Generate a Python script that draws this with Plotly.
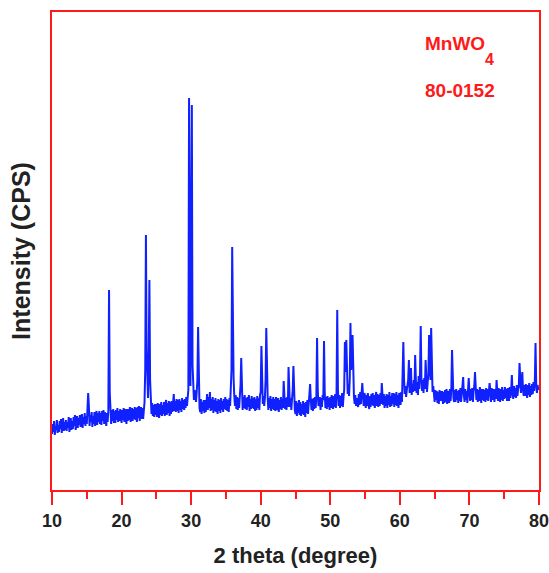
"""
XRD pattern of MnWO4 (JCPDS 80-0152) drawn with plotly
"""

import plotly.graph_objects as go

## data: intensity, one row per degree (N.0 ... N.9)
TWO_THETA_START = 10.0
TWO_THETA_STEP = 0.1

intensity = [
    56, 66, 58, 69, 55, 64, 60, 70, 57, 65,        # 10
    58, 69, 61, 71, 57, 66, 72, 59, 68, 60,        # 11
    70, 59, 68, 62, 73, 58, 66, 72, 60, 69,        # 12
    61, 73, 64, 75, 60, 70, 74, 62, 72, 65,        # 13
    75, 63, 71, 76, 62, 73, 66, 77, 64, 74,        # 14
    66, 80, 97, 84, 64, 75, 68, 78, 63, 74,        # 15
    66, 78, 64, 75, 79, 65, 77, 68, 79, 66,        # 16
    77, 65, 79, 69, 80, 66, 78, 71, 64, 77,        # 17
    68, 80, 200, 98, 77, 66, 80, 69, 81, 67,       # 18
    79, 67, 80, 70, 82, 68, 79, 69, 81, 72,        # 19
    67, 80, 70, 82, 68, 81, 72, 66, 81, 69,        # 20
    81, 70, 83, 68, 79, 82, 69, 81, 71, 83,        # 21
    70, 82, 68, 83, 72, 84, 69, 80, 83, 71,        # 22
    82, 71, 85, 88, 120, 255, 140, 98, 92, 130,    # 23
    210, 110, 86, 76, 87, 74, 85, 73, 86, 75,      # 24
    86, 73, 87, 76, 72, 86, 75, 88, 74, 85,        # 25
    76, 88, 74, 86, 90, 75, 87, 77, 89, 74,        # 26
    88, 76, 89, 78, 88, 96, 79, 89, 78, 91,        # 27
    79, 90, 77, 91, 80, 89, 78, 92, 81, 90,        # 28
    80, 91, 82, 93, 84, 94, 100, 392, 140, 104,    # 29
    240, 385, 125, 96, 90, 100, 92, 88, 98, 110,   # 30
    163, 98, 82, 78, 91, 76, 88, 79, 90, 77,       # 31
    90, 78, 91, 96, 80, 93, 82, 98, 79, 91,        # 32
    80, 93, 77, 90, 79, 92, 78, 89, 76, 91,        # 33
    79, 90, 77, 92, 80, 89, 78, 91, 81, 93,        # 34
    80, 91, 79, 90, 78, 92, 84, 96, 120, 243,      # 35
    125, 112, 94, 84, 95, 81, 93, 80, 92, 82,      # 36
    94, 105, 132, 94, 80, 93, 82, 95, 81, 92,      # 37
    80, 93, 83, 95, 79, 91, 81, 94, 82, 92,        # 38
    81, 93, 79, 91, 80, 94, 82, 92, 80, 95,        # 39
    98, 144, 98, 86, 94, 84, 92, 110, 162, 100,    # 40
    92, 80, 92, 82, 94, 79, 91, 81, 93, 80,        # 41
    91, 79, 93, 82, 80, 92, 78, 90, 81, 93,        # 42
    80, 91, 82, 109, 94, 81, 92, 80, 93, 83,       # 43
    123, 96, 83, 92, 80, 91, 100, 124, 95, 80,     # 44
    76, 89, 74, 87, 77, 90, 75, 88, 74, 86,        # 45
    76, 89, 75, 87, 73, 88, 77, 90, 76, 87,        # 46
    92, 106, 90, 80, 91, 79, 92, 81, 93, 82,       # 47
    94, 152, 100, 84, 89, 93, 80, 92, 83, 95,      # 48
    90, 149, 98, 82, 93, 81, 94, 83, 92, 80,       # 49
    93, 82, 95, 84, 81, 94, 83, 96, 82, 97,        # 50
    180, 100, 84, 95, 82, 94, 84, 97, 83, 93,      # 51
    100, 148, 118, 150, 112, 96, 106, 94, 112, 167,  # 52
    120, 130, 155, 110, 93, 86, 95, 84, 92, 87,    # 53
    83, 96, 85, 98, 86, 97, 107, 95, 84, 97,       # 54
    94, 82, 95, 84, 97, 85, 81, 94, 83, 96,        # 55
    85, 97, 84, 95, 82, 94, 98, 84, 96, 83,        # 56
    95, 84, 97, 86, 107, 96, 85, 96, 82, 94,       # 57
    84, 96, 82, 95, 85, 98, 83, 94, 84, 97,        # 58
    86, 97, 83, 96, 85, 98, 84, 95, 82, 97,        # 59
    95, 85, 98, 88, 110, 148, 112, 96, 104, 93,    # 60
    100, 106, 110, 130, 97, 108, 122, 95, 106, 98,   # 61
    110, 99, 135, 110, 97, 108, 95, 114, 101, 118,   # 62
    164, 112, 99, 110, 97, 112, 101, 130, 104, 98,   # 63
    108, 115, 155, 120, 110, 162, 118, 98, 104, 93,  # 64
    88, 100, 90, 99, 87, 98, 86, 100, 89, 99,      # 65
    89, 99, 86, 98, 87, 100, 88, 101, 86, 97,      # 66
    99, 87, 101, 89, 102, 140, 104, 92, 88, 100,   # 67
    88, 101, 90, 99, 87, 100, 89, 102, 88, 99,     # 68
    101, 113, 95, 88, 101, 90, 99, 87, 100, 112,   # 69
    98, 89, 101, 90, 102, 88, 99, 104, 118, 100,   # 70
    90, 101, 88, 100, 89, 103, 91, 87, 101, 90,    # 71
    101, 89, 100, 88, 102, 90, 101, 89, 99, 107,   # 72
    100, 88, 102, 90, 101, 92, 88, 101, 91, 110,   # 73
    99, 89, 102, 91, 88, 101, 90, 103, 89, 100,    # 74
    91, 103, 92, 101, 89, 102, 93, 89, 103, 92,    # 75
    100, 115, 97, 91, 104, 93, 102, 92, 105, 94,   # 76
    101, 104, 127, 106, 97, 106, 118, 100, 94, 105,  # 77
    94, 106, 96, 92, 105, 95, 107, 93, 104, 95,    # 78
    106, 96, 108, 99, 108, 147, 106, 97, 105, 100,   # 79
]

x_ticks = [10, 20, 30, 40, 50, 60, 70, 80]
phase_name = 'MnWO'
phase_sub = '4'
card_no = '80-0152'

RED = '#ff1a1a'
FONT = 'Liberation Sans, Arial, sans-serif'

fig = go.Figure(go.Scatter(x0=TWO_THETA_START, dx=TWO_THETA_STEP, y=intensity,
                           mode='lines', line=dict(color='#1020ff', width=2),
                           showlegend=False))

fig.update_layout(width=549, height=573, margin=dict(l=52, r=10, t=12, b=83),
                  plot_bgcolor='white', paper_bgcolor='white',
                  font=dict(family=FONT, color='#222222'))

fig.update_xaxes(range=[10, 80], tickvals=x_ticks, ticks='outside', ticklen=13,
                 tickwidth=2, tickcolor=RED, showline=True, linecolor=RED,
                 linewidth=2, mirror=True, showgrid=False, zeroline=False, automargin=False,
                 ticklabeloverflow='allow',
                 tickfont=dict(size=18, family=FONT, color='#222222', weight='bold'),
                 minor=dict(dtick=5, ticks='outside', ticklen=7, tickwidth=2, tickcolor=RED),
                 title=dict(text='<b>2 theta (degree)</b>', font=dict(size=22), standoff=18))

fig.update_yaxes(range=[0, 478], showticklabels=False, ticks='', showline=True,
                 linecolor=RED, linewidth=2, mirror=True, showgrid=False, zeroline=False,
                 automargin=False,
                 title=dict(text='<b>Intensity (CPS)</b>', font=dict(size=25), standoff=12))

fig.add_annotation(text=f'<b>{phase_name}</b>', xref='paper', yref='paper', x=0.761, y=0.935,
                   xanchor='left', yanchor='middle', showarrow=False,
                   font=dict(size=19, color=RED, family=FONT))
fig.add_annotation(text=f'<b>{phase_sub}</b>', xref='paper', yref='paper', x=0.886, y=0.9,
                   xanchor='left', yanchor='middle', showarrow=False,
                   font=dict(size=16, color=RED, family=FONT))
fig.add_annotation(text=f'<b>{card_no}</b>', xref='paper', yref='paper', x=0.761, y=0.835,
                   xanchor='left', yanchor='middle', showarrow=False,
                   font=dict(size=19, color=RED, family=FONT))

# the page body has a default 8px margin; drop it so the figure sits at the corner
fig.write_html("out.html", config={'displayModeBar': False},
               post_script="document.body.style.margin = '0px';")
